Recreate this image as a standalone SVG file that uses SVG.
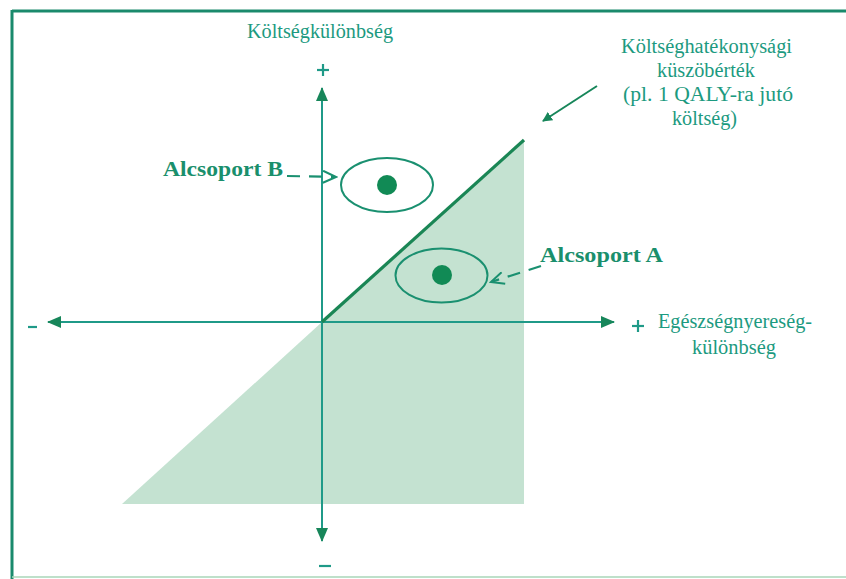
<svg xmlns="http://www.w3.org/2000/svg" width="846" height="579" viewBox="0 0 846 579">
<style>
.lbl{font-family:"Liberation Serif","Times New Roman",serif;font-size:20px;fill:#1c9a80}
.big{font-family:"Liberation Serif","Times New Roman",serif;font-size:22px;font-weight:bold;fill:#1a8f6c}
.axis{stroke:#1f9a88;stroke-width:2;fill:none}
.ell{stroke:#1a9070;stroke-width:2;fill:none}
.dot{fill:#118a55}
.dash{stroke:#1a9070;stroke-width:2.2;fill:none;stroke-dasharray:13,9}
.sign{stroke:#1f9a88;stroke-width:2.2}
</style>
<defs>
<marker id="ah" markerWidth="10" markerHeight="10" refX="9" refY="5" orient="auto" markerUnits="userSpaceOnUse" viewBox="0 0 10 10">
<path d="M0,0 L10,5 L0,10 Z" fill="#17865a"/>
</marker>
<marker id="ahs" markerWidth="14" markerHeight="14" refX="13" refY="7" orient="auto" markerUnits="userSpaceOnUse" viewBox="0 0 14 14">
<path d="M0,1 L14,7 L0,13 Z" fill="#17865a"/>
</marker>
<marker id="chev" markerWidth="16" markerHeight="14" refX="14" refY="7" orient="auto" markerUnits="userSpaceOnUse" viewBox="0 0 16 14">
<path d="M1,1 L14,7 L1,13" fill="none" stroke="#1a9070" stroke-width="2"/>
</marker>
</defs>
<rect width="846" height="579" fill="#ffffff"/>
<g id="frame">
<line x1="12" y1="11" x2="846" y2="11" stroke="#1a8a6c" stroke-width="3"/>
<line x1="12" y1="10" x2="12" y2="579" stroke="#1a8a6c" stroke-width="3"/>
<line x1="12" y1="577" x2="846" y2="577" stroke="#a8d6b8" stroke-width="1.5"/>
</g>
<g id="region">
<polygon points="122,504 322,322 524,140 524,504" fill="#c4e2d1"/>
</g>
<g id="connectors">
<line class="axis" x1="322" y1="540" x2="322" y2="88" marker-end="url(#ahs)"/>
<line class="axis" x1="322" y1="320" x2="322" y2="541" marker-end="url(#ahs)"/>
<line class="axis" x1="322" y1="322" x2="614" y2="322" marker-end="url(#ahs)"/>
<line class="axis" x1="322" y1="322" x2="48" y2="322" marker-end="url(#ahs)"/>
<line x1="322" y1="322" x2="524" y2="140" stroke="#1a8655" stroke-width="3.2"/>
<line x1="597" y1="86" x2="543" y2="121" stroke="#17865a" stroke-width="2" marker-end="url(#ah)"/>
<line class="dash" x1="287" y1="176" x2="336" y2="177" marker-end="url(#chev)"/>
<line class="dash" x1="541" y1="266" x2="491" y2="282" marker-end="url(#chev)"/>
</g>
<g id="signs">
<line class="sign" x1="317" y1="70" x2="329" y2="70"/>
<line class="sign" x1="323" y1="64" x2="323" y2="76"/>
<line class="sign" x1="632" y1="326" x2="644" y2="326"/>
<line class="sign" x1="638" y1="320" x2="638" y2="332"/>
<line class="sign" x1="28" y1="327" x2="37" y2="327"/>
<line class="sign" x1="319" y1="566" x2="331" y2="566"/>
</g>
<g id="label-y">
<text class="lbl" x="247" y="38" textLength="146" lengthAdjust="spacingAndGlyphs">Költségkülönbség</text>
</g>
<g id="label-x">
<text class="lbl" x="658" y="328" textLength="154" lengthAdjust="spacingAndGlyphs">Egészségnyereség-</text>
<text class="lbl" x="692" y="354" textLength="84" lengthAdjust="spacingAndGlyphs">különbség</text>
</g>
<g id="label-threshold">
<text class="lbl" x="621" y="53" textLength="171" lengthAdjust="spacingAndGlyphs">Költséghatékonysági</text>
<text class="lbl" x="657" y="77" textLength="98" lengthAdjust="spacingAndGlyphs">küszöbérték</text>
<text class="lbl" x="623" y="101" textLength="170" lengthAdjust="spacingAndGlyphs">(pl. 1 QALY-ra jutó</text>
<text class="lbl" x="672" y="125" textLength="65" lengthAdjust="spacingAndGlyphs">költség)</text>
</g>
<g id="subgroup-b">
<ellipse class="ell" cx="387" cy="185" rx="46" ry="27"/>
<circle class="dot" cx="387" cy="185" r="10"/>
<text class="big" x="163" y="176" textLength="120" lengthAdjust="spacingAndGlyphs">Alcsoport B</text>
</g>
<g id="subgroup-a">
<ellipse class="ell" cx="441.5" cy="275.5" rx="46" ry="27"/>
<circle class="dot" cx="442" cy="275" r="10"/>
<text class="big" x="540" y="262" textLength="123" lengthAdjust="spacingAndGlyphs">Alcsoport A</text>
</g>
</svg>
